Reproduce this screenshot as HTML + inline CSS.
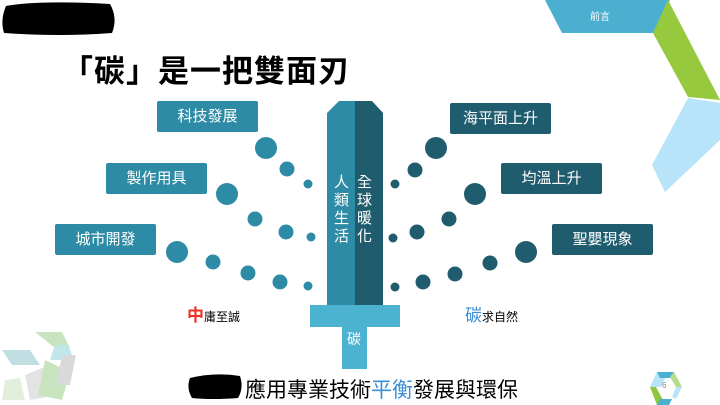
<!DOCTYPE html>
<html><head><meta charset="utf-8"><style>
html,body{margin:0;padding:0;width:720px;height:405px;overflow:hidden;background:#fff;font-family:"Liberation Sans","Noto Sans CJK TC",sans-serif;}
.a{position:absolute;}
.box{position:absolute;width:101px;height:31px;color:#fff;font-size:15px;line-height:31px;text-align:center;border-radius:2px;}
.L{background:#2e8ba5;}.R{background:#1f5d6e;}
</style></head><body>
<svg class="a" style="left:0;top:0" width="720" height="405">
<path d="M6 6 Q40 0 110 4 Q118 18 112 33 Q60 37 4 33 Q0 20 6 6Z" fill="#000"/>
<polygon points="545,0 670,0 653,33 562,33" fill="#4bafd0"/>
<polygon points="653,33 668,0 720,100 688,97" fill="#96c93d"/>
<polygon points="688,98 720,103 720,140 665,192 652,165" fill="#b8e4fa"/>
<g opacity="0.55">
<polygon points="35,332 62,332 70,348 55,348" fill="#9ccf8a"/>
<polygon points="55,345 68,345 74,360 50,360" fill="#8fd3d8"/>
<polygon points="2,350 30,350 40,365 12,365" fill="#8fc4cc"/>
<polygon points="25,375 50,365 58,395 30,400" fill="#aaa" opacity="0.6"/>
<polygon points="45,360 70,372 62,400 38,395" fill="#9ccf8a"/>
<polygon points="62,355 76,355 70,385 56,385" fill="#bbb"/>
<polygon points="5,380 20,378 25,400 2,400" fill="#c9e3c0"/>
</g>
<polygon points="327,113 339,101 355,101 355,305 327,305" fill="#2e8ba5"/>
<polygon points="355,101 372,101 383,113 383,305 355,305" fill="#1f5d6e"/>
<rect x="310" y="305" width="90" height="22" fill="#4bb2d0"/>
<rect x="342" y="327" width="25" height="42" fill="#4bb2d0"/>
<g fill="#2e8ba5">
<circle cx="266" cy="148" r="11"/><circle cx="287" cy="169" r="7.5"/><circle cx="308" cy="184" r="4.5"/>
<circle cx="227" cy="194" r="11"/><circle cx="255" cy="219" r="7.5"/><circle cx="286" cy="232" r="7.5"/><circle cx="311" cy="237" r="4.5"/>
<circle cx="177" cy="252" r="11"/><circle cx="213" cy="262" r="7.5"/><circle cx="248" cy="273" r="7.5"/><circle cx="280" cy="282" r="7.5"/><circle cx="308" cy="286" r="4.5"/>
</g>
<g fill="#1f5d6e">
<circle cx="436" cy="148" r="11"/><circle cx="415" cy="170" r="7.5"/><circle cx="395" cy="184" r="4.5"/>
<circle cx="475" cy="194" r="11"/><circle cx="449" cy="219" r="7.5"/><circle cx="417" cy="232" r="7.5"/><circle cx="393" cy="238" r="4.5"/>
<circle cx="526" cy="252" r="11"/><circle cx="490" cy="263" r="7.5"/><circle cx="455" cy="274" r="7.5"/><circle cx="423" cy="282" r="7.5"/><circle cx="395" cy="287" r="4.5"/>
</g>
<path d="M190 378 Q215 372 240 376 Q244 388 238 398 Q212 400 192 398 Q186 388 190 378Z" fill="#000"/>
<polygon points="650,387 657,372 668,372 661,387" fill="#b8e4fa"/>
<polygon points="657,372 674,372 671,378 660,378" fill="#4bafd0"/>
<polygon points="674,372 682,387 676,387 670,377" fill="#b5dd8a"/>
<polygon points="650,387 656,387 664,402 657,405" fill="#8fc43d"/>
<polygon points="660,399 672,399 669,405 657,405" fill="#4bafd0"/>
<polygon points="682,387 676,387 672,397 676,399" fill="#b8e4fa"/>
</svg>
<div class="a" style="left:62px;top:46px;font-size:31px;font-weight:bold;letter-spacing:1px;white-space:nowrap">「碳」是一把雙面刃</div>
<div class="a" style="left:590px;top:8px;font-size:10px;color:#fff">前言</div>
<div class="box L" style="left:157px;top:101px">科技發展</div>
<div class="box L" style="left:106px;top:163px">製作用具</div>
<div class="box L" style="left:55px;top:224px">城市開發</div>
<div class="box R" style="left:450px;top:103px">海平面上升</div>
<div class="box R" style="left:501px;top:163px">均溫上升</div>
<div class="box R" style="left:552px;top:224px">聖嬰現象</div>
<div class="a" style="left:334px;top:174px;width:16px;color:#fff;font-size:15px;line-height:18px">人類生活</div>
<div class="a" style="left:357px;top:174px;width:16px;color:#fff;font-size:15px;line-height:18px">全球暖化</div>
<div class="a" style="left:347px;top:329px;color:#fff;font-size:14px">碳</div>
<div class="a" style="left:187px;top:301px;white-space:nowrap"><span style="color:#e32;font-size:17px;font-weight:bold">中</span><span style="font-size:12px">庸至誠</span></div>
<div class="a" style="left:465px;top:301px;white-space:nowrap"><span style="color:#3a8fd8;font-size:17px">碳</span><span style="font-size:12px">求自然</span></div>
<div class="a" style="left:245px;top:374px;font-size:21px;white-space:nowrap">應用專業技術<span style="color:#3a8fd8">平衡</span>發展與環保</div>
<div class="a" style="left:662px;top:381px;font-size:8px;color:#888">6</div>
</body></html>
